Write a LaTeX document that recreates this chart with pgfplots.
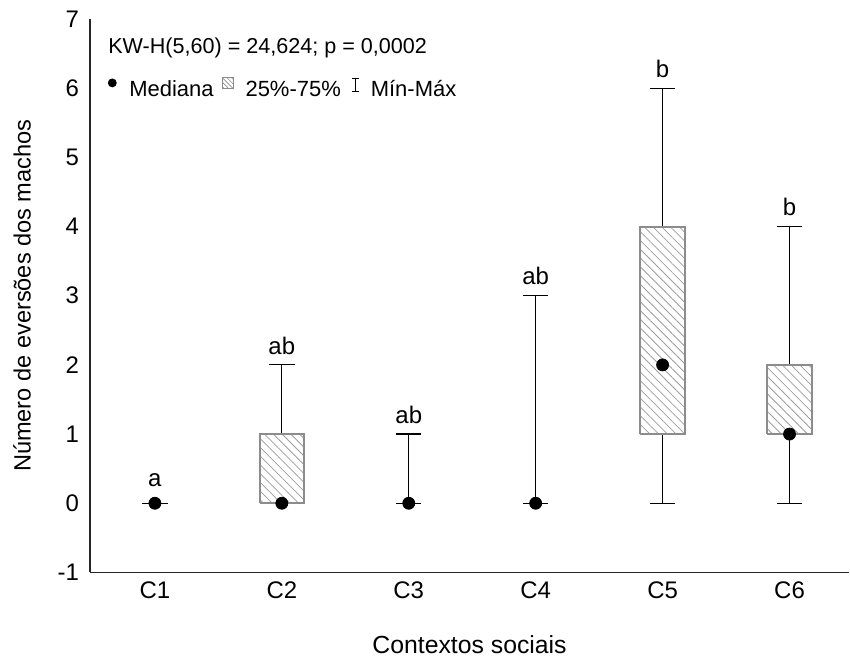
\documentclass[border=0pt]{standalone}
\usepackage{pgfplots}
\pgfplotsset{compat=1.18}
\usepackage{fontspec}
\setmainfont{Liberation Sans}
\usetikzlibrary{patterns.meta}
\tikzset{hatch/.style={pattern={Lines[angle=-45,distance=3.1pt,line width=0.4pt]}, pattern color=black!38}}
\begin{document}
\begin{tikzpicture}
\begin{axis}[
  scale only axis, width=380pt, height=277pt,
  xmin=0.488, xmax=6.47, ymin=-1, ymax=7,
  axis x line=bottom, axis y line=left,
  axis line style={-, line width=0.8pt, black!85},
  xtick={1,2,3,4,5,6}, xticklabels={C1,C2,C3,C4,C5,C6},
  ytick={-1,0,1,2,3,4,5,6,7}, yticklabels={-1,0,1,2,3,4,5,6,7},
  major tick length=0pt,
  tick label style={font=\fontsize{12}{14}\selectfont},
  yticklabel style={xshift=-2pt},
  xticklabel style={yshift=-1pt},
  xlabel={Contextos sociais}, ylabel={Número de eversões dos machos},
  every axis x label/.style={at={(axis description cs:0.5,0)}, yshift=-36pt, anchor=center, font=\fontsize{12.4}{14}\selectfont},
  every axis y label/.style={at={(axis description cs:0,0.5)}, xshift=-34pt, rotate=90, anchor=center, font=\fontsize{11.8}{14}\selectfont},
  clip=false,
  unbounded coords=jump,
  legend style={at={(axis description cs:0,1)}, anchor=north west, xshift=6pt, yshift=-28.5pt,
    draw=none, fill=none, font=\fontsize{11}{13}\selectfont, inner sep=0pt,
    /tikz/every even column/.append style={column sep=2pt}},
  legend columns=-1,
]
\addlegendimage{legend image code/.code={\path[draw=none,fill=none] (0pt,-3pt) rectangle (11.5pt,6pt); \fill[black] (5pt,3.5pt) circle (2pt);}}
\addlegendentry{Mediana}
\addlegendimage{legend image code/.code={\path[draw=none,fill=none] (0pt,-3pt) rectangle (10pt,6pt); \draw[black!45, line width=0.5pt, fill=white, postaction={pattern={Lines[angle=-45,distance=1.6pt,line width=0.3pt]}, pattern color=black!45}] (0.5pt,0.5pt) rectangle (6pt,6pt);}}
\addlegendentry{25\%-75\%}
\addlegendimage{legend image code/.code={\path[draw=none,fill=none] (0pt,-3pt) rectangle (9pt,6pt); \draw[black, line width=0.5pt] (3.5pt,-1pt) -- (3.5pt,5.5pt) (1.8pt,-1pt) -- (5.2pt,-1pt) (1.8pt,5.5pt) -- (5.2pt,5.5pt);}}
\addlegendentry{Mín-Máx}

% whiskers and caps
\addplot[forget plot, black, line width=0.6pt, mark=none] coordinates {
 (1,0) (1,0) (1,nan) (0.9,0) (1.1,0) (1,nan)
 (2,0) (2,2) (2,nan) (1.9,2) (2.1,2) (2,nan) (1.9,0) (2.1,0) (2,nan)
 (3,0) (3,1) (3,nan) (2.9,1) (3.1,1) (3,nan) (2.9,0) (3.1,0) (3,nan)
 (4,0) (4,3) (4,nan) (3.9,3) (4.1,3) (4,nan) (3.9,0) (4.1,0) (4,nan)
 (5,0) (5,6) (5,nan) (4.9,6) (5.1,6) (5,nan) (4.9,0) (5.1,0) (5,nan)
 (6,0) (6,4) (6,nan) (5.9,4) (6.1,4) (6,nan) (5.9,0) (6.1,0)
};
% boxes (25%-75%)
\addplot[forget plot, draw=black!45, line width=1pt, fill=white, postaction={hatch}, mark=none]
 coordinates {(1.825,0) (2.175,0) (2.175,1) (1.825,1) (1.825,0)};
\addplot[forget plot, draw=black!45, line width=1pt, fill=white, postaction={hatch}, mark=none]
 coordinates {(4.825,1) (5.175,1) (5.175,4) (4.825,4) (4.825,1)};
\addplot[forget plot, draw=black!45, line width=1pt, fill=white, postaction={hatch}, mark=none]
 coordinates {(5.825,1) (6.175,1) (6.175,2) (5.825,2) (5.825,1)};
% medians
\addplot[forget plot, only marks, mark=*, mark size=3pt, black] coordinates {(1,0) (2,0) (3,0) (4,0) (5,2) (6,1)};
% group letters
\addplot[forget plot, draw=none, mark=none, nodes near coords, point meta=explicit symbolic,
  every node near coord/.style={anchor=center, font=\fontsize{12}{14}\selectfont, black}]
 coordinates {(1,0.33)[a] (2,2.28)[ab] (3,1.28)[ab] (4,3.28)[ab] (5,6.28)[b] (6,4.28)[b]};
\node[anchor=west, font=\fontsize{10.8}{13}\selectfont, inner sep=0pt] at ([xshift=9pt,yshift=-14.5pt]axis description cs:0,1) {KW-H(5,60) = 24,624; p = 0,0002};
\end{axis}
\path ([shift={(-45pt,-43.75pt)}]current axis.south west) rectangle ([shift={(0pt,9.5pt)}]current axis.north east);
\end{tikzpicture}
\end{document}
